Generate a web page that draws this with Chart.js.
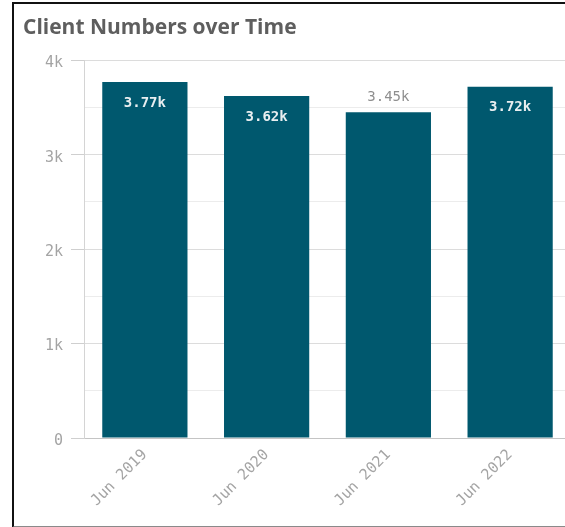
<!DOCTYPE html>
<html>
<head>
<meta charset="utf-8">
<script src="https://cdn.jsdelivr.net/npm/chart.js@4/dist/chart.umd.min.js"></script>
<style>
  html, body { margin: 0; padding: 0; background: #fff; overflow: hidden; width: 565px; height: 527px; }
  #frame { position: absolute; left: 12px; top: 2px; width: 600px; height: 522px;
           border-left: 2px solid #111; border-top: 2px solid #111; border-bottom: 2px solid #8a8a8a; }
  #wrap { position: absolute; left: 14px; top: 4px; width: 560px; height: 520px; }
</style>
</head>
<body>
<div id="frame"></div>
<div id="wrap"><canvas id="c"></canvas></div>
<script>
const categories = ["Jun 2019", "Jun 2020", "Jun 2021", "Jun 2022"];
const clients = [3770, 3620, 3450, 3720];
const valueLabels = ["3.77k", "3.62k", "3.45k", "3.72k"];
const labelInside = [true, true, false, true];
const yTickLabels = { 0: "0", 1000: "1k", 2000: "2k", 3000: "3k", 4000: "4k" };

const MONO = "'DejaVu Sans Mono', monospace";
const BAR = "#00586e";

const valueLabelPlugin = {
  id: "valueLabels",
  afterDatasetsDraw(chart) {
    const ctx = chart.ctx;
    const meta = chart.getDatasetMeta(0);
    ctx.save();
    ctx.textAlign = "center";
    ctx.textBaseline = "middle";
    meta.data.forEach((bar, i) => {
      if (labelInside[i]) {
        ctx.font = "bold 14px " + MONO;
        ctx.fillStyle = "#e8eef0";
        ctx.fillText(valueLabels[i], bar.x, bar.y + 21);
      } else {
        ctx.font = "14px " + MONO;
        ctx.fillStyle = "#8f8f8f";
        ctx.fillText(valueLabels[i], bar.x, bar.y - 15);
      }
    });
    ctx.restore();
  }
};

new Chart(document.getElementById("c"), {
  type: "bar",
  data: {
    labels: categories,
    datasets: [{
      data: clients,
      backgroundColor: BAR,
      borderWidth: 0,
      barPercentage: 0.7,
      categoryPercentage: 1.0
    }]
  },
  options: {
    responsive: true,
    maintainAspectRatio: false,
    animation: false,
    layout: { padding: { left: 9, right: 3, top: 0, bottom: 0 } },
    plugins: {
      legend: { display: false },
      tooltip: { enabled: false },
      title: {
        display: true,
        text: "Client Numbers over Time",
        align: "start",
        color: "#5e5e5e",
        font: { family: "'Open Sans', sans-serif", size: 21, weight: "bold" },
        padding: { top: 11, bottom: 20 }
      }
    },
    scales: {
      x: {
        grid: { display: false },
        border: { display: true, color: "#c4c4c4", width: 1 },
        ticks: {
          color: "#a4a4a4",
          font: { family: MONO, size: 15 },
          minRotation: 45,
          maxRotation: 45,
          padding: 0
        },
        afterFit(scale) { scale.height = 86; }
      },
      y: {
        min: 0,
        max: 4000,
        ticks: {
          stepSize: 500,
          color: "#a4a4a4",
          font: { family: MONO, size: 15 },
          padding: 8,
          labelOffset: 3,
          callback(v) { return yTickLabels[v] !== undefined ? yTickLabels[v] : ""; }
        },
        grid: {
          color(ctx) { return (ctx.tick && ctx.tick.value % 1000 === 0) ? "#dcdcdc" : "#ececec"; },
          tickColor(ctx) { return (ctx.tick && ctx.tick.value % 1000 === 0) ? "#cfcfcf" : "rgba(0,0,0,0)"; },
          tickLength: 13
        },
        border: { display: true, color: "#d4d4d4", width: 1 },
        afterFit(scale) { scale.width = 61; }
      }
    }
  },
  plugins: [valueLabelPlugin]
});
</script>
</body>
</html>
